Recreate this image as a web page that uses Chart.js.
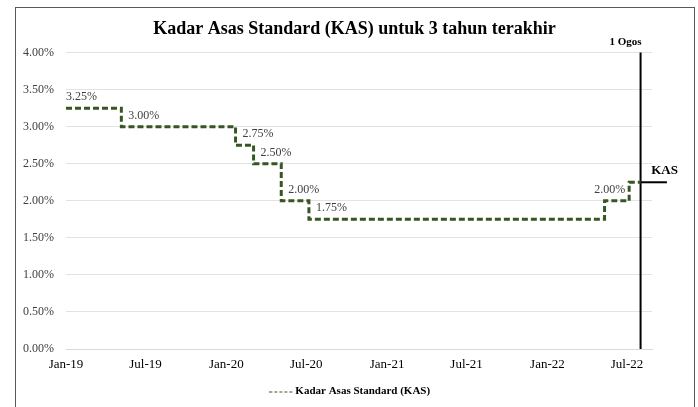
<!DOCTYPE html>
<html>
<head>
<meta charset="utf-8">
<script src="https://cdn.jsdelivr.net/npm/chart.js@4.4.0/dist/chart.umd.min.js"></script>
<style>
  body { margin: 0; background: #fff; }
  canvas { display: block; }
</style>
</head>
<body>
<canvas id="kasChart" width="698" height="407"></canvas>
<script>
// dates of each rate change (year, month 1-12, day)
const changeDates = [
    [2019, 1, 1], [2019, 5, 7], [2020, 1, 22], [2020, 3, 3],
    [2020, 5, 5], [2020, 7, 7], [2022, 5, 11], [2022, 7, 6], [2022, 8, 1]
];
const rates = [3.25, 3.00, 2.75, 2.50, 2.00, 1.75, 2.00, 2.25, 2.25];
const rateLabels = ['3.25%', '3.00%', '2.75%', '2.50%', '2.00%', '1.75%', '2.00%', '', ''];
const labelAnchor = ['start', 'start', 'start', 'start', 'start', 'start', 'end', null, null];

const tickDates = [[2019, 1], [2019, 7], [2020, 1], [2020, 7], [2021, 1], [2021, 7], [2022, 1], [2022, 7]];
const tickLabels = ['Jan-19', 'Jul-19', 'Jan-20', 'Jul-20', 'Jan-21', 'Jul-21', 'Jan-22', 'Jul-22'];
const yTicks = [0, 0.5, 1, 1.5, 2, 2.5, 3, 3.5, 4];

const ogosDate = [2022, 8, 1];
const kasRate = 2.25;
const kasEndDate = [2022, 9, 30];

const axisMin = [2019, 1, 1];
const axisMax = [2022, 8, 27];

function ts(d) { return Date.UTC(d[0], d[1] - 1, d[2] || 1); }

const serif = '"Liberation Serif", "Times New Roman", serif';
const green = '#375623';

const kasPoints = changeDates.map((d, i) => ({ x: ts(d), y: rates[i] }));

// small dashed swatch for the legend
const swatch = document.createElement('canvas');
swatch.width = 30; swatch.height = 4;
(function () {
    const c = swatch.getContext('2d');
    c.strokeStyle = green;
    c.lineWidth = 1;
    c.setLineDash([3, 2]);
    c.beginPath();
    c.moveTo(0, 2.5);
    c.lineTo(23, 2.5);
    c.stroke();
})();

const frame = {
    id: 'frame',
    beforeDraw(chart) {
        const ctx = chart.ctx;
        ctx.save();
        ctx.strokeStyle = '#595959';
        ctx.lineWidth = 1;
        ctx.strokeRect(15.5, 7.5, 679, 430);
        ctx.restore();
    }
};

const notes = {
    id: 'notes',
    afterDatasetsDraw(chart) {
        const ctx = chart.ctx;
        const xs = chart.scales.x, ys = chart.scales.y;
        ctx.save();
        ctx.font = '12px ' + serif;
        ctx.fillStyle = '#404040';
        ctx.textBaseline = 'middle';
        for (let i = 0; i < kasPoints.length; i++) {
            if (!rateLabels[i]) continue;
            const y = ys.getPixelForValue(rates[i]) - 11;
            if (labelAnchor[i] === 'start') {
                ctx.textAlign = 'left';
                ctx.fillText(rateLabels[i], xs.getPixelForValue(kasPoints[i].x) + (i === 0 ? 0 : 7), y);
            } else {
                ctx.textAlign = 'right';
                ctx.fillText(rateLabels[i], xs.getPixelForValue(kasPoints[i + 1].x) - 4, y);
            }
        }
        const ox = xs.getPixelForValue(ts(ogosDate));
        ctx.fillStyle = '#000';
        ctx.font = 'bold 11px ' + serif;
        ctx.textAlign = 'center';
        ctx.fillText('1 Ogos', ox - 15, ys.getPixelForValue(4) - 10);
        ctx.font = 'bold 13px ' + serif;
        ctx.fillText('KAS', ox + 24, ys.getPixelForValue(kasRate) - 12);
        ctx.restore();
    }
};

new Chart(document.getElementById('kasChart'), {
    type: 'line',
    data: {
        datasets: [{
            label: 'Kadar Asas Standard (KAS)',
            data: kasPoints,
            stepped: true,
            borderColor: green,
            backgroundColor: green,
            borderWidth: 3,
            borderDash: [6, 3],
            pointRadius: 0,
            pointStyle: swatch,
            fill: false
        }, {
            label: 'ogos',
            data: [{ x: ts(ogosDate), y: 0 }, { x: ts(ogosDate), y: 4 }],
            borderColor: '#000',
            borderWidth: 2,
            pointRadius: 0,
            clip: false
        }, {
            label: 'kas',
            data: [{ x: ts(ogosDate), y: kasRate }, { x: ts(kasEndDate), y: kasRate }],
            borderColor: '#000',
            borderWidth: 2,
            pointRadius: 0,
            clip: false
        }]
    },
    options: {
        responsive: false,
        animation: false,
        layout: { padding: { top: 19, right: 0, bottom: 0, left: 11 } },
        plugins: {
            title: {
                display: true,
                text: 'Kadar Asas Standard (KAS) untuk 3 tahun terakhir',
                color: '#000',
                font: { family: serif, size: 18, weight: 'bold' },
                padding: { top: 0, bottom: 12 }
            },
            legend: {
                position: 'bottom',
                labels: {
                    color: '#000',
                    font: { family: serif, size: 11, weight: 'bold' },
                    usePointStyle: true,
                    padding: 2,
                    filter: item => item.datasetIndex === 0
                }
            },
            tooltip: { enabled: false }
        },
        scales: {
            x: {
                type: 'linear',
                min: ts(axisMin),
                max: ts(axisMax),
                afterBuildTicks(scale) {
                    scale.ticks = tickDates.map(d => ({ value: ts(d) }));
                },
                afterFit(scale) { scale.height = 35; },
                ticks: {
                    autoSkip: false,
                    maxRotation: 0,
                    color: '#000',
                    font: { family: serif, size: 13 },
                    padding: 4,
                    callback(value, index) { return tickLabels[index]; }
                },
                grid: { display: false, drawTicks: true, tickLength: 4 },
                border: { display: true, color: '#d9d9d9' }
            },
            y: {
                min: 0,
                max: 4,
                afterBuildTicks(scale) {
                    scale.ticks = yTicks.map(v => ({ value: v }));
                },
                afterFit(scale) { scale.width = 55; },
                ticks: {
                    color: '#404040',
                    font: { family: serif, size: 12 },
                    padding: 12,
                    callback: v => v.toFixed(2) + '%'
                },
                grid: { color: '#e3e3e3', drawTicks: false },
                border: { display: false }
            },
            // empty right-hand gutter where the KAS marker sits
            gutter: {
                type: 'linear',
                position: 'right',
                afterFit(scale) { scale.width = 46; },
                ticks: { display: false },
                grid: { display: false, drawTicks: false },
                border: { display: false }
            }
        }
    },
    plugins: [frame, notes]
});
</script>
</body>
</html>
